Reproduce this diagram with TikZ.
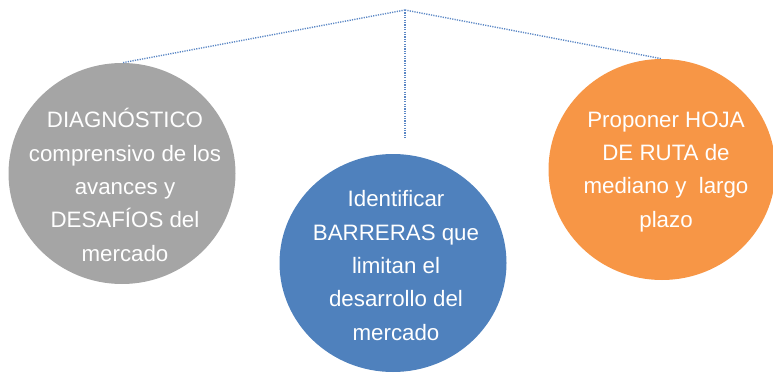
\documentclass[tikz,border=0pt]{standalone}
\usepackage{fontspec}
\setmainfont{Liberation Sans}
\usetikzlibrary{shapes.geometric}
\definecolor{gris}{HTML}{A5A5A5}
\definecolor{azul}{HTML}{4F81BD}
\definecolor{naranja}{HTML}{F79646}
\definecolor{linea}{HTML}{5B87C5}
\begin{document}
\begin{tikzpicture}[x=1pt,y=1pt,
  bola/.style={ellipse, inner sep=0pt, minimum width=227pt, minimum height=221pt},
  texto/.style={text=white, align=center, anchor=base, inner sep=0pt,
    font=\fontsize{22.3}{33.3}\selectfont},
  punteada/.style={linea, line width=1.4pt, dash pattern=on 1.2pt off 1.2pt}]
\useasboundingbox (0,0) rectangle (773,373);

\node[bola, fill=gris] (1) at (122,199.5) {};
\node[bola, fill=azul, minimum height=218pt] (2) at (393,110) {};
\node[bola, fill=naranja] (3) at (662,203.5) {};

% anchor=base sits on the last line
\node[texto] (t1) at (125,112) {DIAGNÓSTICO\\comprensivo de los\\avances y\\DESAFÍOS del\\mercado};
\node[texto] (t2) at (396,33) {Identificar\\BARRERAS que\\limitan el\\desarrollo del\\mercado};
\node[texto] (t3) at (666,146) {Proponer HOJA\\DE RUTA de\\mediano y~~largo\\plazo};

\coordinate (raiz) at (405,363);
\coordinate (fin) at (405,235);
\path[draw,punteada] (raiz) -- (1.north);
\path[draw,punteada] (raiz) -- (3.north);
\path[draw,punteada] (raiz) -- (fin);
\end{tikzpicture}
\end{document}
